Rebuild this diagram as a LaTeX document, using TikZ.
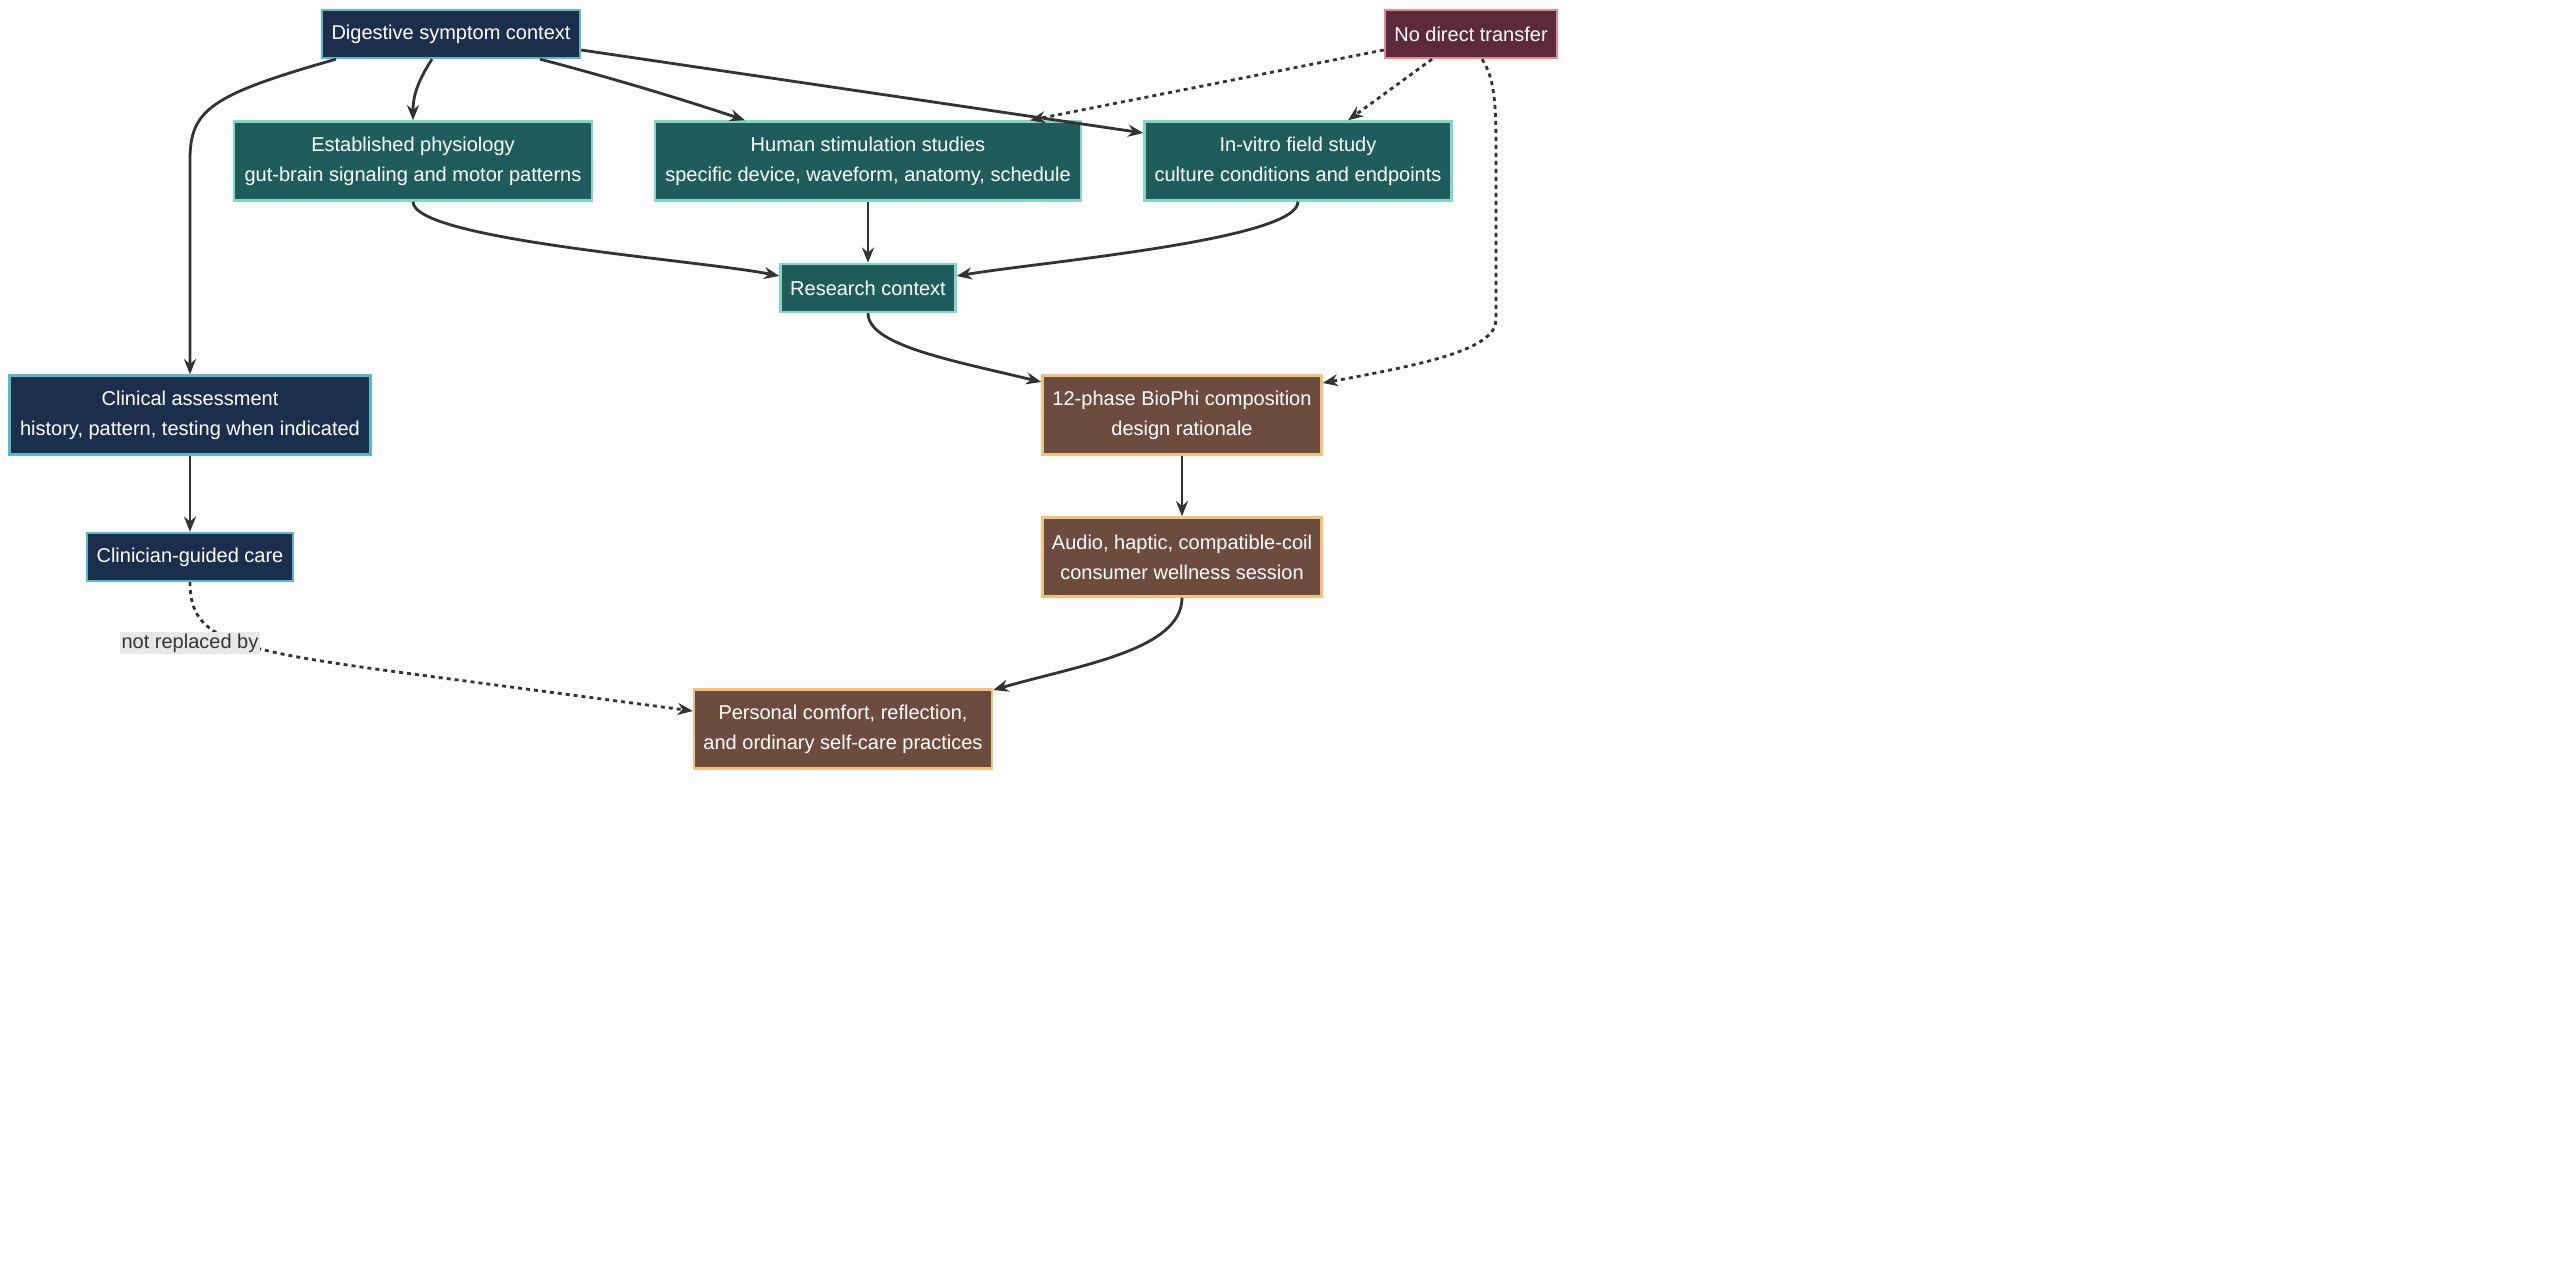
\documentclass[tikz,border=0pt]{standalone}
\usepackage{fontspec}
\setmainfont{Liberation Sans}
\usetikzlibrary{arrows.meta,calc}
\definecolor{navy}{HTML}{1B2F4D}\definecolor{navyb}{HTML}{5BB8CC}
\definecolor{teal}{HTML}{1F5C5C}\definecolor{tealb}{HTML}{86D6C6}
\definecolor{brn}{HTML}{6B4C3F}\definecolor{brnb}{HTML}{F2C27A}
\definecolor{wine}{HTML}{5C2A3A}\definecolor{wineb}{HTML}{E38C98}
\definecolor{edge}{HTML}{333333}
\definecolor{bgc}{HTML}{FDFDFD}
\begin{document}
\begin{tikzpicture}[x=0.25pt,y=-0.25pt,every node/.style={transform shape},scale=1,
 box/.style={draw,text=white,align=center,font=\fontsize{5}{7.5}\selectfont,inner sep=0pt,line width=0.6pt},
 bnavy/.style={box,fill=navy,draw=navyb},
 bteal/.style={box,fill=teal,draw=tealb},
 bbrn/.style={box,fill=brn,draw=brnb},
 bwine/.style={box,fill=wine,draw=wineb},
 arr/.style={draw=edge,line width=0.7pt,-{Stealth[length=3.8pt,width=3pt]}},
 dsh/.style={arr,dash pattern=on 1pt off 1pt}]
\fill[bgc] (0,0) rectangle (2560,1273);
\useasboundingbox (0,0) rectangle (2560,1273);
\node[bnavy,minimum width=64.5pt,minimum height=12pt] (dig) at (451,34) {Digestive symptom context};
\node[bwine,minimum width=43pt,minimum height=12pt] (nd) at (1471,34) {No direct transfer};
\node[bteal,minimum width=89.5pt,minimum height=19.75pt] (est) at (413,161) {Established physiology\\gut-brain signaling and motor patterns};
\node[bteal,minimum width=106.5pt,minimum height=19.75pt] (hum) at (868,161) {Human stimulation studies\\specific device, waveform, anatomy, schedule};
\node[bteal,minimum width=76.75pt,minimum height=19.75pt] (inv) at (1298,161) {In-vitro field study\\culture conditions and endpoints};
\node[bteal,minimum width=43.75pt,minimum height=12pt] (res) at (868,288) {Research context};
\node[bnavy,minimum width=90.25pt,minimum height=19.75pt] (cli) at (190,415) {Clinical assessment\\history, pattern, testing when indicated};
\node[bbrn,minimum width=69.75pt,minimum height=19.75pt] (bio) at (1182,415) {12-phase BioPhi composition\\design rationale};
\node[bbrn,minimum width=69.75pt,minimum height=19.75pt] (aud) at (1182,557) {Audio, haptic, compatible-coil\\consumer wellness session};
\node[bnavy,minimum width=51.5pt,minimum height=12pt] (cg) at (190,557) {Clinician-guided care};
\node[bbrn,minimum width=74.5pt,minimum height=19.75pt] (per) at (843,729) {Personal comfort, reflection,\\and ordinary self-care practices};
% edges
\draw[arr] ($(dig.south)+(-115,0)$) .. controls (210,95) and (190,110) .. (190,160) -- (cli.north);
\draw[arr] ($(dig.south)+(-19,0)$) .. controls (415,85) and (413,100) .. (est.north);
\draw[arr] ($(dig.south)+(89,0)$) .. controls (620,80) and (700,105) .. ($(hum.north)+(-123,0)$);
\draw[arr] ($(dig.east)+(0,16)$) -- ($(inv.west)+(0,-28)$);
\draw[dsh] ($(nd.west)+(0,16)$) -- ($(hum.north)+(162,0)$);
\draw[dsh] ($(nd.south)+(-39,0)$) -- ($(inv.north)+(50,0)$);
\draw[dsh] ($(nd.south)+(11,0)$) .. controls (1496,80) and (1496,110) .. (1496,160) -- (1496,320) .. controls (1496,350) and (1420,365) .. ($(bio.east)+(0,-32)$);
\draw[arr] (est.south) .. controls (413,240) and (700,260) .. ($(res.west)+(0,-12)$);
\draw[arr] (hum.south) -- (res.north);
\draw[arr] (inv.south) .. controls (1298,240) and (1040,262) .. ($(res.east)+(0,-12)$);
\draw[arr] (res.south) .. controls (868,345) and (950,360) .. ($(bio.west)+(0,-33)$);
\draw[arr] (cli.south) -- (cg.north);
\draw[arr] (bio.south) -- (aud.north);
\draw[arr] (aud.south) .. controls (1182,650) and (1080,665) .. ($(per.east)+(0,-39)$);
\draw[dsh] (cg.south) .. controls (190,640) and (230,650) .. (420,675) -- ($(per.west)+(0,-18)$);
\node[fill=black!9,inner sep=0.5pt,font=\fontsize{5}{6}\selectfont,text=edge] (lab) at (190,643) {not replaced by};
\end{tikzpicture}
\end{document}
